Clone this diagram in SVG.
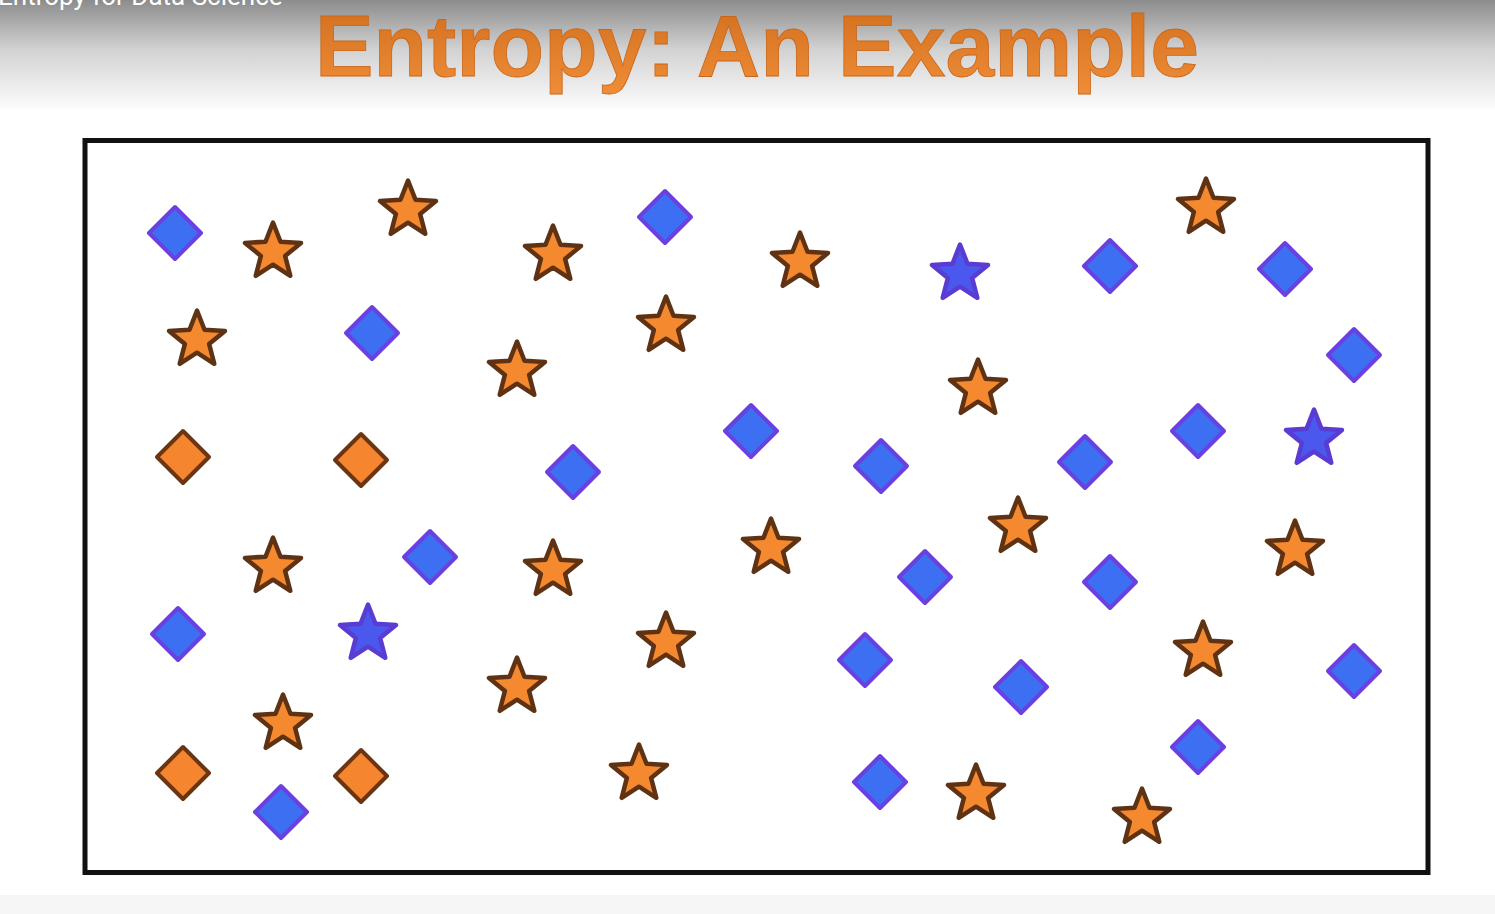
<svg xmlns="http://www.w3.org/2000/svg" xmlns:xlink="http://www.w3.org/1999/xlink" width="1495" height="914" viewBox="0 0 1495 914">
<defs>
<linearGradient id="bg" x1="0" y1="0" x2="0" y2="1">
<stop offset="0" stop-color="#8c8c8c"/>
<stop offset="0.45" stop-color="#d2d2d2"/>
<stop offset="1" stop-color="#fdfdfd"/>
</linearGradient>
<linearGradient id="tg" x1="0" y1="0" x2="0" y2="1">
<stop offset="0" stop-color="#d06d1c"/>
<stop offset="1" stop-color="#f08d38"/>
</linearGradient>
<path id="star" d="M0,-29.5 L7.5,-10.3 L28,-9.1 L12.1,3.9 L17.3,23.8 L0,12.7 L-17.3,23.8 L-12.1,3.9 L-28,-9.1 L-7.5,-10.3 Z"/>
<path id="dia" d="M0,-26 L26,0 L0,26 L-26,0 Z"/>
<style>
.os{fill:#f58930;stroke:#5e3212;stroke-width:4.5;stroke-linejoin:round}
.bs{fill:#4a58ee;stroke:#5a3cd2;stroke-width:4.5;stroke-linejoin:round}
.bd{fill:#3d6ff2;stroke:#6a40e0;stroke-width:4;stroke-linejoin:round}
.od{fill:#f5852f;stroke:#6a3510;stroke-width:4;stroke-linejoin:round}
.title{font-family:"Liberation Sans",Arial,sans-serif;font-weight:bold;font-size:88px;fill:url(#tg);stroke:#c9661a;stroke-width:0.8}
.hdr{font-family:Roboto,"Liberation Sans",sans-serif;font-size:26px;fill:#ffffff}
</style>
</defs>
<rect x="0" y="0" width="1495" height="914" fill="#ffffff"/>
<rect x="0" y="0" width="1495" height="110" fill="url(#bg)"/>
<rect x="0" y="895" width="1495" height="19" fill="#f6f6f6"/>
<text class="hdr" x="-2" y="5">Entropy for Data Science</text>
<text class="title" x="757" y="76" text-anchor="middle" textLength="884" lengthAdjust="spacingAndGlyphs">Entropy: An Example</text>
<rect id="frame" x="85" y="140.5" width="1343" height="732" fill="#ffffff" stroke="#111111" stroke-width="5"/>
<g id="connectors"></g>
<g id="bd1"><use xlink:href="#dia" class="bd" x="175" y="233"/></g>
<g id="bd2"><use xlink:href="#dia" class="bd" x="665" y="217"/></g>
<g id="bd3"><use xlink:href="#dia" class="bd" x="1110" y="266"/></g>
<g id="bd4"><use xlink:href="#dia" class="bd" x="1285" y="269"/></g>
<g id="bd5"><use xlink:href="#dia" class="bd" x="372" y="333"/></g>
<g id="bd6"><use xlink:href="#dia" class="bd" x="1354" y="355"/></g>
<g id="bd7"><use xlink:href="#dia" class="bd" x="751" y="431"/></g>
<g id="bd8"><use xlink:href="#dia" class="bd" x="573" y="472"/></g>
<g id="bd9"><use xlink:href="#dia" class="bd" x="881" y="466"/></g>
<g id="bd10"><use xlink:href="#dia" class="bd" x="1085" y="462"/></g>
<g id="bd11"><use xlink:href="#dia" class="bd" x="1198" y="431"/></g>
<g id="bd12"><use xlink:href="#dia" class="bd" x="430" y="557"/></g>
<g id="bd13"><use xlink:href="#dia" class="bd" x="925" y="577"/></g>
<g id="bd14"><use xlink:href="#dia" class="bd" x="1110" y="582"/></g>
<g id="bd15"><use xlink:href="#dia" class="bd" x="178" y="634"/></g>
<g id="bd16"><use xlink:href="#dia" class="bd" x="865" y="660"/></g>
<g id="bd17"><use xlink:href="#dia" class="bd" x="1021" y="687"/></g>
<g id="bd18"><use xlink:href="#dia" class="bd" x="1354" y="671"/></g>
<g id="bd19"><use xlink:href="#dia" class="bd" x="1198" y="747"/></g>
<g id="bd20"><use xlink:href="#dia" class="bd" x="281" y="812"/></g>
<g id="bd21"><use xlink:href="#dia" class="bd" x="880" y="782"/></g>
<g id="od1"><use xlink:href="#dia" class="od" x="183" y="457"/></g>
<g id="od2"><use xlink:href="#dia" class="od" x="361" y="460"/></g>
<g id="od3"><use xlink:href="#dia" class="od" x="183" y="773"/></g>
<g id="od4"><use xlink:href="#dia" class="od" x="361" y="776"/></g>
<g id="os1"><use xlink:href="#star" class="os" x="273" y="252"/></g>
<g id="os2"><use xlink:href="#star" class="os" x="408" y="210"/></g>
<g id="os3"><use xlink:href="#star" class="os" x="553" y="255"/></g>
<g id="os4"><use xlink:href="#star" class="os" x="800" y="262"/></g>
<g id="os5"><use xlink:href="#star" class="os" x="1206" y="208"/></g>
<g id="os6"><use xlink:href="#star" class="os" x="197" y="340"/></g>
<g id="os7"><use xlink:href="#star" class="os" x="517" y="371"/></g>
<g id="os8"><use xlink:href="#star" class="os" x="666" y="326"/></g>
<g id="os9"><use xlink:href="#star" class="os" x="978" y="389"/></g>
<g id="os10"><use xlink:href="#star" class="os" x="273" y="567"/></g>
<g id="os11"><use xlink:href="#star" class="os" x="553" y="570"/></g>
<g id="os12"><use xlink:href="#star" class="os" x="771" y="548"/></g>
<g id="os13"><use xlink:href="#star" class="os" x="1018" y="527"/></g>
<g id="os14"><use xlink:href="#star" class="os" x="1295" y="550"/></g>
<g id="os15"><use xlink:href="#star" class="os" x="666" y="642"/></g>
<g id="os16"><use xlink:href="#star" class="os" x="517" y="687"/></g>
<g id="os17"><use xlink:href="#star" class="os" x="283" y="724"/></g>
<g id="os18"><use xlink:href="#star" class="os" x="1203" y="651"/></g>
<g id="os19"><use xlink:href="#star" class="os" x="639" y="774"/></g>
<g id="os20"><use xlink:href="#star" class="os" x="976" y="794"/></g>
<g id="os21"><use xlink:href="#star" class="os" x="1142" y="818"/></g>
<g id="bs1"><use xlink:href="#star" class="bs" x="960" y="274"/></g>
<g id="bs2"><use xlink:href="#star" class="bs" x="1314" y="439"/></g>
<g id="bs3"><use xlink:href="#star" class="bs" x="368" y="634"/></g>
</svg>
